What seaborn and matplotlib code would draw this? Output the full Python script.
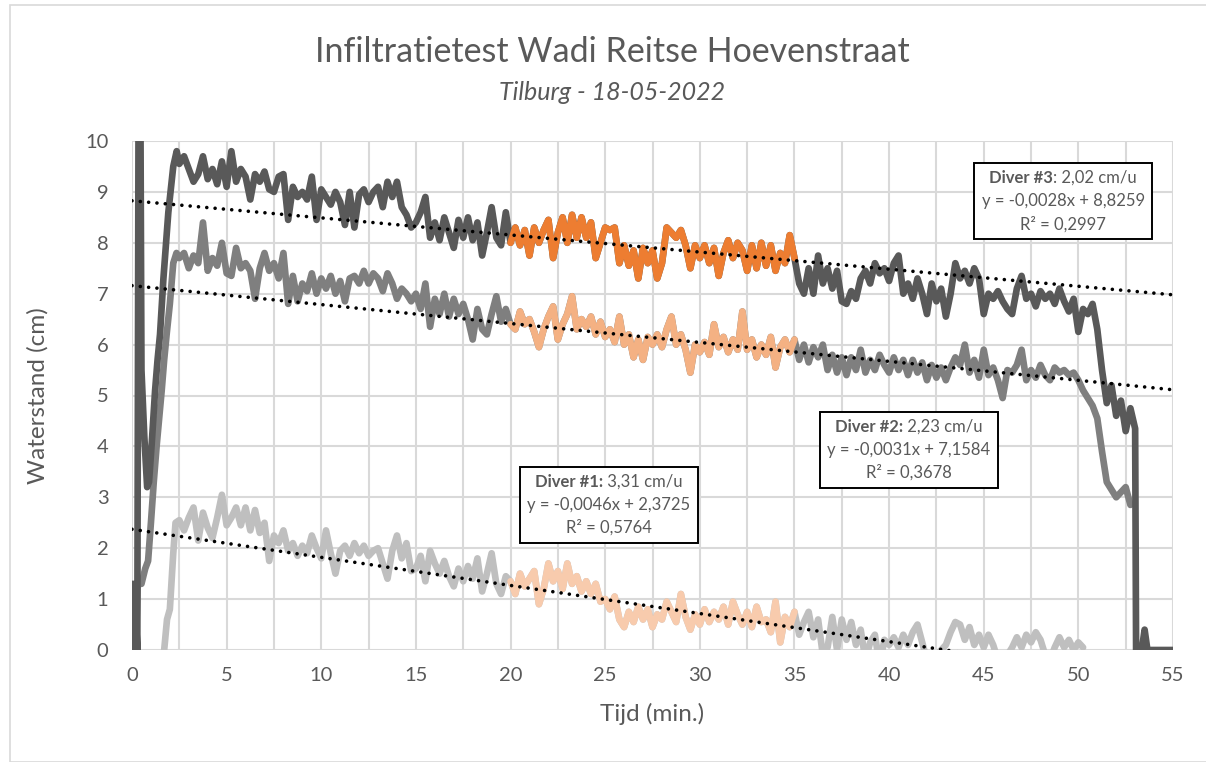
import numpy as np
import pandas as pd
import matplotlib
matplotlib.use("Agg")
import matplotlib.pyplot as plt
import seaborn as sns
from matplotlib.patches import Rectangle
from matplotlib.offsetbox import TextArea, HPacker, VPacker, AnnotationBbox

# ---------------- data ----------------
GRID_STEP = 0.25          # minutes between the regular readings
MAIN_START = 2.5          # first regular reading (min)
HIGHLIGHT = (20.0, 35.0)  # orange window used for the infiltration rate

# Diver #3 (dark)
D3_LEAD_T = [0.0, 0.05, 0.15, 0.28, 0.36, 0.42, 0.5, 0.65, 0.8, 0.9, 1.05, 1.22, 1.35, 1.48, 1.66, 1.92, 2.18, 2.36]
D3_LEAD_V = [0.0, 1.3, 1.2, 0.0, 13.0, 13.0, 5.5, 4.2, 3.2, 3.3, 4.1, 5.1, 5.7, 6.2, 7.3, 8.6, 9.5, 9.8]
D3_MAIN_V = [
    9.55, 9.7, 9.45, 9.2, 9.35, 9.7, 9.25, 9.45, 9.15, 9.6,
    9.1, 9.8, 9.2, 9.45, 9.3, 8.85, 9.35, 9.2, 9.4, 9.05,
    9.0, 9.3, 9.35, 8.45, 9.1, 8.9, 9.0, 8.85, 9.3, 8.45,
    9.05, 8.9, 8.75, 9.0, 8.8, 8.35, 9.0, 8.3, 8.95, 9.05,
    8.8, 9.0, 9.1, 8.7, 9.2, 8.9, 9.2, 8.7, 8.55, 8.3,
    8.4, 8.6, 8.9, 8.1, 8.4, 8.05, 8.5, 8.2, 7.9, 8.45,
    8.1, 8.5, 8.05, 8.4, 7.75, 8.2, 8.7, 8.1, 7.95, 8.6,
    8.0, 8.3, 7.95, 8.25, 7.75, 8.3, 8.0, 8.25, 8.45, 7.7,
    8.2, 8.5, 8.0, 8.55, 8.1, 8.5, 8.1, 8.4, 7.7, 8.0,
    8.3, 8.25, 8.3, 7.6, 7.95, 7.55, 7.85, 7.3, 7.9, 7.6,
    7.85, 7.3, 7.6, 8.3, 8.2, 8.1, 8.25, 7.95, 7.5, 7.95,
    7.7, 7.95, 7.6, 7.9, 7.35, 7.8, 8.05, 7.7, 8.0, 7.85,
    7.45, 7.95, 7.5, 8.0, 7.55, 7.95, 7.45, 7.8, 7.6, 8.15,
    7.7, 7.2, 7.0, 7.5, 7.0, 7.75, 7.2, 7.5, 7.1, 7.45,
    6.85, 6.8, 7.05, 6.9, 7.3, 7.45, 7.2, 7.6, 7.4, 7.5,
    7.25, 7.6, 7.75, 7.0, 7.2, 6.9, 7.3, 7.0, 6.6, 7.2,
    6.85, 7.1, 6.55, 7.0, 7.6, 7.3, 7.45, 7.2, 7.5, 7.3,
    6.6, 7.0, 6.9, 7.05, 6.85, 6.7, 6.6, 7.1, 7.35, 6.9,
    7.0, 6.75, 7.05, 6.9, 7.0, 6.8, 7.1, 6.85, 6.65, 6.9,
    6.25, 6.7, 6.6, 6.8, 6.3, 5.5, 4.85, 5.2, 4.6, 4.9,
    4.3, 4.75, 4.35,
]
D3_TAIL_T = [53.05, 53.35, 53.5, 53.65, 55.0]
D3_TAIL_V = [0.0, 0.0, 0.4, 0.0, 0.0]

# Diver #2 (mid grey)
D2_LEAD_T = [0.2, 0.3, 0.5, 0.7, 0.85, 1.0, 1.15, 1.3, 1.45, 1.57, 1.7, 1.83, 2.0, 2.18, 2.35]
D2_LEAD_V = [0.0, 1.3, 1.3, 1.6, 1.75, 2.5, 3.3, 4.0, 4.6, 5.1, 5.7, 6.2, 6.8, 7.6, 7.8]
D2_MAIN_V = [
    7.7, 7.8, 7.5, 7.75, 7.6, 8.4, 7.45, 7.7, 7.55, 8.0,
    7.4, 7.35, 7.9, 7.5, 7.6, 7.45, 6.9, 7.5, 7.8, 7.45,
    7.6, 7.3, 7.8, 6.8, 7.35, 6.85, 7.2, 7.05, 7.4, 7.0,
    7.3, 7.1, 7.35, 7.0, 7.25, 6.85, 7.3, 7.35, 7.2, 7.45,
    7.2, 7.4, 7.3, 7.05, 7.4, 7.2, 6.9, 7.1, 7.0, 6.85,
    7.0, 6.7, 7.2, 6.35, 6.9, 6.6, 7.0, 6.55, 6.9, 6.6,
    6.8, 6.5, 6.1, 6.7, 6.3, 6.2, 6.6, 6.95, 6.45, 6.7,
    6.4, 6.3, 6.65, 6.4, 6.5, 6.25, 5.95, 6.3, 6.55, 6.75,
    6.1, 6.4, 6.6, 6.95, 6.3, 6.5, 6.35, 6.55, 6.2, 6.45,
    6.15, 6.3, 6.05, 6.55, 6.0, 6.2, 5.75, 6.1, 5.7, 6.15,
    6.0, 6.2, 5.95, 6.3, 6.55, 6.0, 6.2, 5.9, 5.45, 6.0,
    5.85, 6.05, 5.8, 6.4, 5.95, 6.15, 5.85, 6.1, 5.9, 6.65,
    5.9, 6.1, 5.75, 6.0, 5.8, 6.15, 5.55, 5.95, 6.1, 5.85,
    6.1, 5.7, 6.0, 5.65, 5.95, 5.75, 6.0, 5.5, 5.8, 5.45,
    5.75, 5.4, 5.75, 5.5, 5.9, 5.45, 5.7, 5.5, 5.8, 5.6,
    5.45, 5.75, 5.5, 5.7, 5.4, 5.7, 5.45, 5.65, 5.3, 5.6,
    5.35, 5.55, 5.3, 5.55, 5.75, 5.6, 6.0, 5.45, 5.7, 5.35,
    5.9, 5.4, 5.55, 5.3, 4.95, 5.5, 5.45, 5.6, 5.9, 5.3,
    5.5, 5.35, 5.6, 5.4, 5.3, 5.55, 5.45, 5.5, 5.4, 5.45,
    5.3, 5.1, 4.95, 4.8, 4.55, 3.9, 3.3, 3.15, 3.0, 3.1,
    3.2, 2.85,
]

# Diver #1 (light grey)
D1_LEAD_T = [1.7, 1.85, 2.0, 2.18, 2.3]
D1_LEAD_V = [0.0, 0.6, 0.8, 1.9, 2.5]
D1_MAIN_V = [
    2.55, 2.35, 2.6, 2.8, 2.15, 2.7, 2.4, 2.2, 2.6, 3.05,
    2.45, 2.6, 2.8, 2.45, 2.8, 2.35, 2.75, 2.3, 2.5, 1.75,
    2.25, 2.1, 2.35, 1.95, 2.1, 1.85, 2.05, 1.9, 2.25, 2.0,
    1.8, 2.35, 1.9, 1.5, 1.95, 2.05, 1.85, 2.1, 1.9, 2.05,
    1.85, 1.95, 2.0, 1.7, 1.4, 1.95, 2.25, 1.8, 2.1, 1.55,
    1.6, 1.85, 1.35, 1.95, 1.7, 1.5, 1.75, 1.45, 1.25, 1.6,
    1.35, 1.65, 1.4, 1.8, 1.15, 1.5, 1.9, 1.3, 1.1, 1.45,
    1.35, 1.1, 1.5, 1.25, 1.4, 1.55, 0.9, 1.2, 1.7, 1.35,
    1.55, 1.2, 1.7, 1.3, 1.45, 1.15, 1.35, 1.1, 1.3, 0.95,
    1.0, 0.8, 1.05, 0.6, 0.45, 0.75, 0.55, 0.85, 0.6, 0.8,
    0.45, 0.7, 0.6, 0.95, 0.75, 0.55, 1.1, 0.65, 0.4, 0.7,
    0.5, 0.8, 0.55, 0.75, 0.6, 0.85, 0.5, 0.95, 0.7, 0.5,
    0.75, 0.45, 0.85, 0.55, 0.6, 0.35, 0.95, 0.15, 0.65, 0.45,
    0.75, 0.3, 0.55, 0.75, 0.25, 0.6, -0.1, 0.05, 0.65, 0.0,
    0.6, 0.2, 0.55, 0.1, 0.4, -0.2, 0.15, 0.3, -0.3, 0.2,
    0.1, 0.25, 0.05, 0.3, 0.1, 0.35, 0.5, 0.15, -0.2, -0.3,
    -0.1, 0.0, 0.1, 0.35, 0.55, 0.5, 0.2, 0.45, 0.1, 0.3,
    0.05, 0.3, 0.1, -0.2, -0.3, -0.1, 0.05, 0.25, 0.05, 0.3,
    0.15, 0.35, 0.2, -0.1, -0.2, 0.05, 0.25, 0.05, 0.2, 0.0,
    0.15, 0.05,
]

# Excel trendlines (x = sample number, one sample every 5 s)
SAMPLES_PER_MIN = 12
TREND_SLOPE = [-0.0046, -0.0031, -0.0028]
TREND_INTERCEPT = [2.3725, 7.1584, 8.8259]

LABEL_NAMES = ["Diver #1:", "Diver #2:", "Diver #3"]
LABEL_RATES = [" 3,31 cm/u", " 2,23 cm/u", ": 2,02 cm/u"]
LABEL_EQS = ["y = -0,0046x + 2,3725", "y = -0,0031x + 7,1584", "y = -0,0028x + 8,8259"]
LABEL_R2 = ["R² = 0,5764", "R² = 0,3678", "R² = 0,2997"]

TITLE = "Infiltratietest Wadi Reitse Hoevenstraat"
SUBTITLE = "Tilburg - 18-05-2022"
XLABEL = "Tijd (min.)"
YLABEL = "Waterstand (cm)"

# ---------------- build series ----------------
def series(lead_t, lead_v, main_v, tail_t=(), tail_v=()):
    main_t = MAIN_START + GRID_STEP * np.arange(len(main_v))
    t = np.concatenate([lead_t, main_t, tail_t])
    v = np.concatenate([lead_v, main_v, tail_v])
    return pd.DataFrame({"t": t, "v": v})

d1 = series(D1_LEAD_T, D1_LEAD_V, D1_MAIN_V)
d2 = series(D2_LEAD_T, D2_LEAD_V, D2_MAIN_V)
d3 = series(D3_LEAD_T, D3_LEAD_V, D3_MAIN_V, D3_TAIL_T, D3_TAIL_V)

GREYS = ["#bfbfbf", "#7f7f7f", "#595959"]
ORANGES = ["#f8cbad", "#f4b183", "#ed7d31"]
TXT = "#595959"

# ---------------- figure ----------------
sns.set_theme(style="white")
plt.rcParams["font.family"] = ["Lato", "DejaVu Sans"]

W, H = 1206, 762
fig = plt.figure(figsize=(W / 100, H / 100), dpi=100)
fig.patch.set_facecolor("white")
L, R, T, B = 132, 1173, 141, 650
ax = fig.add_axes([L / W, 1 - B / H, (R - L) / W, (B - T) / H])

lw = 4.8
for df, grey in zip([d1, d2, d3], GREYS):
    sns.lineplot(data=df, x="t", y="v", ax=ax, color=grey, linewidth=lw,
                 estimator=None, sort=False, solid_joinstyle="round",
                 solid_capstyle="round", zorder=3)
for df, orn in zip([d1, d2, d3], ORANGES):
    seg = df[(df.t >= HIGHLIGHT[0]) & (df.t <= HIGHLIGHT[1])]
    sns.lineplot(data=seg, x="t", y="v", ax=ax, color=orn, linewidth=lw,
                 estimator=None, sort=False, solid_joinstyle="round",
                 solid_capstyle="round", zorder=4)

t_line = np.array([0.0, 55.0])
for a, b in zip(TREND_SLOPE, TREND_INTERCEPT):
    y_line = a * t_line * SAMPLES_PER_MIN + b
    ax.plot(t_line, y_line, color="black", linewidth=2.6,
            linestyle=(0, (0.01, 2.3)), dash_capstyle="round", zorder=5)

ax.set_xlim(0, 55)
ax.set_ylim(0, 10)
ax.set_xticks(np.arange(0, 56, 5))
ax.set_xticks(np.arange(0, 55.1, 2.5), minor=True)
ax.set_yticks(np.arange(0, 11, 1))
ax.grid(True, which="both", axis="x", color="#d9d9d9", linewidth=1.5, zorder=0)
ax.grid(True, which="major", axis="y", color="#d9d9d9", linewidth=1.5, zorder=0)
ax.set_axisbelow(True)
for s in ax.spines.values():
    s.set_visible(False)
ax.tick_params(axis="both", which="both", length=0, labelcolor=TXT, labelsize=14.5)
ax.tick_params(axis="y", pad=17)
ax.tick_params(axis="x", pad=12)
ax.set_xlabel(XLABEL, fontsize=17.5, color=TXT, labelpad=14)
ax.set_ylabel(YLABEL, fontsize=17.5, color=TXT, labelpad=26)

# trendline label boxes (centre in data coordinates, size in data units)
box_centres = [(25.2, 2.85), (41.05, 3.93), (49.2, 8.82)]
bw, bh = 9.4, 1.49
fs = 12
for i, (cx, cy) in enumerate(box_centres):
    ax.add_patch(Rectangle((cx - bw / 2, cy - bh / 2), bw, bh, facecolor="white",
                           edgecolor="black", linewidth=1.4, zorder=6))
    tp = dict(fontsize=fs, color=TXT)
    line1 = HPacker(children=[TextArea(LABEL_NAMES[i], textprops=dict(tp, fontweight="bold")),
                              TextArea(LABEL_RATES[i], textprops=tp)],
                    align="baseline", pad=0, sep=0)
    line2 = TextArea(LABEL_EQS[i], textprops=tp)
    line3 = TextArea(LABEL_R2[i], textprops=tp)
    pack = VPacker(children=[line1, line2, line3], align="center", pad=0, sep=5)
    ab = AnnotationBbox(pack, (cx, cy), xycoords="data", frameon=False,
                        box_alignment=(0.5, 0.5), pad=0, zorder=7)
    ax.add_artist(ab)

fig.text(612 / W, 1 - 52 / H, TITLE, ha="center", va="center", fontsize=24.5,
         color=TXT)
fig.text(612 / W, 1 - 92 / H, SUBTITLE, ha="center", va="center", fontsize=18,
         color=TXT, style="italic")

fig.add_artist(Rectangle((10 / W, 0), 1.0, 1 - 5 / H, transform=fig.transFigure,
                         fill=False, edgecolor="#d9d9d9", linewidth=1.2))

fig.savefig("out.png", dpi=100)
